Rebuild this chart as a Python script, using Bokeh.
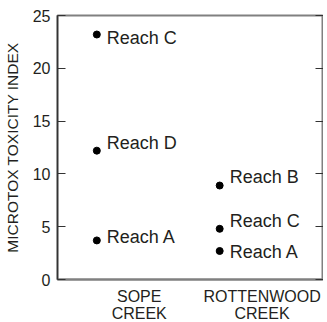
from bokeh.plotting import figure
from bokeh.models import ColumnDataSource, LinearAxis, FixedTicker, Range1d
from bokeh.transform import dodge
from bokeh.core.properties import value
from bokeh.embed import file_html
from bokeh.resources import INLINE

# Data
creeks = ["SOPE\nCREEK", "ROTTENWOOD\nCREEK"]
creek_pos = [1, 2]
point_creek = [1, 1, 1, 2, 2, 2]
reach_labels = ["Reach C", "Reach D", "Reach A", "Reach B", "Reach C", "Reach A"]
toxicity = [23.2, 12.2, 3.7, 8.9, 4.8, 2.7]
label_dy = [3, -8, -3, -9, -8, 1.5]  # label vertical nudge in px
y_ticks = [0, 5, 10, 15, 20, 25]

FONT = "Liberation Sans"
TXT = "#231f20"

src = ColumnDataSource(dict(x=point_creek, y=toxicity, label=reach_labels, dy=label_dy))

p = figure(frame_width=266, frame_height=264, output_backend="svg", toolbar_location=None,
           x_range=Range1d(0.335, 2.5), y_range=Range1d(0, 25),
           min_border_left=53, min_border_top=15, min_border_bottom=28, min_border_right=0)
p.grid.visible = False
p.background_fill_color = "white"
p.border_fill_color = "white"
p.outline_line_color = "#808080"
p.outline_line_width = 2

xd = dodge("x", -0.345, range=p.x_range)
p.scatter(x=xd, y="y", source=src, size=7, color="black")
p.text(x=xd, y="y", text="label", source=src, x_offset=10, y_offset="dy",
       text_font=value(FONT), text_font_size="18px", text_baseline="middle",
       text_align="left", text_color=TXT)

# x axis
xa = p.xaxis[0]
xa.ticker = FixedTicker(ticks=creek_pos)
xa.major_label_overrides = {pos: name for pos, name in zip(creek_pos, creeks)}
xa.major_tick_line_color = None
xa.major_tick_in = 0
xa.major_tick_out = 0
xa.minor_tick_line_color = None
xa.axis_line_color = "#808080"
xa.axis_line_width = 2
xa.major_label_text_font = FONT
xa.major_label_text_font_size = "16px"
xa.major_label_text_color = TXT
xa.major_label_text_line_height = 1.0
xa.major_label_standoff = 8

# y axis
ya = p.yaxis[0]
ya.ticker = FixedTicker(ticks=y_ticks)
ya.minor_tick_line_color = None
ya.major_tick_in = 8
ya.major_tick_out = 0
ya.major_tick_line_color = "#333333"
ya.axis_line_color = "#333333"
ya.axis_line_width = 1.5
ya.major_label_text_font = FONT
ya.major_label_text_font_size = "16px"
ya.major_label_text_color = TXT
ya.major_label_standoff = 7
ya.axis_label = "MICROTOX TOXICITY INDEX"
ya.axis_label_text_font = FONT
ya.axis_label_text_font_size = "15.5px"
ya.axis_label_text_font_style = "normal"
ya.axis_label_text_color = TXT
ya.axis_label_standoff = 9

# right axis with inward ticks only
ra = LinearAxis(ticker=FixedTicker(ticks=y_ticks))
ra.major_tick_in = 8
ra.major_tick_out = 0
ra.minor_tick_line_color = None
ra.major_tick_line_color = "#333333"
ra.axis_line_color = None
ra.major_label_text_color = None
ra.major_label_text_font_size = "1px"
ra.major_label_standoff = 0
p.add_layout(ra, "right")

open("out.html", "w").write(file_html(p, INLINE))
